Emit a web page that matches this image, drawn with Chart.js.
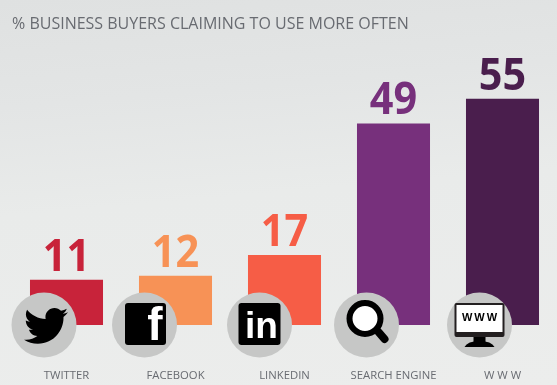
<!DOCTYPE html>
<html>
<head>
<meta charset="utf-8">
<title>Business buyers</title>
<script src="https://cdn.jsdelivr.net/npm/chart.js@4"></script>
<style>
    html, body { margin: 0; padding: 0; width: 557px; height: 385px; overflow: hidden; }
    body { background: linear-gradient(175deg, #dfe1e1 0%, #e3e5e5 25%, #e9ebea 50%, #ecedec 100%); }
    canvas { display: block; }
</style>
</head>
<body>
<canvas id="graficoBuyers" width="557" height="385"></canvas>
<script>
const titulo = '% BUSINESS BUYERS CLAIMING TO USE MORE OFTEN';
const categorias = ['TWITTER', 'FACEBOOK', 'LINKEDIN', 'SEARCH ENGINE', 'W W W'];
const valores = [11, 12, 17, 49, 55];
const cores = ['#C8233A', '#F79256', '#F65D46', '#77307C', '#4A1E4D'];
const tiposIcone = ['twitter', 'facebook', 'linkedin', 'busca', 'www'];
const deslocIcone = [-22.5, -31, -25, -27, -23];

const caminhoTwitter = new Path2D('M22.46,6C21.69,6.35 20.86,6.58 20,6.69C20.88,6.16 21.56,5.32 21.88,4.31C21.05,4.81 20.13,5.16 19.16,5.36C18.37,4.5 17.26,4 16,4C13.65,4 11.73,5.92 11.73,8.29C11.73,8.63 11.77,8.96 11.84,9.27C8.28,9.09 5.11,7.38 3,4.79C2.63,5.42 2.42,6.16 2.42,6.94C2.42,8.43 3.17,9.75 4.33,10.5C3.62,10.5 2.96,10.3 2.38,10C2.38,10 2.38,10 2.38,10.03C2.38,12.11 3.86,13.85 5.82,14.24C5.46,14.34 5.08,14.39 4.69,14.39C4.42,14.39 4.15,14.36 3.89,14.31C4.43,16 6,17.26 7.89,17.29C6.43,18.44 4.58,19.13 2.56,19.13C2.22,19.13 1.88,19.11 1.54,19.07C3.44,20.29 5.7,21 8.12,21C16,21 20.33,14.46 20.33,8.79C20.33,8.6 20.33,8.42 20.32,8.23C21.16,7.63 21.88,6.87 22.46,6Z');

function quadradoRedondo(ctx, x, y, w, h, r) {
    ctx.beginPath();
    ctx.roundRect(x, y, w, h, r);
    ctx.fill();
}

const desenhaIcone = {
    twitter(ctx, cx, cy) {
        ctx.save();
        ctx.translate(cx - 23.2, cy - 25.4);
        ctx.scale(2.1, 2.1);
        ctx.fillStyle = '#000';
        ctx.fill(caminhoTwitter);
        ctx.restore();
    },
    facebook(ctx, cx, cy) {
        ctx.fillStyle = '#000';
        quadradoRedondo(ctx, cx - 19.5, cy - 22, 41, 42, 3);
        ctx.fillStyle = '#fff';
        ctx.font = 'bold 46px "Liberation Sans"';
        ctx.textAlign = 'center';
        ctx.textBaseline = 'alphabetic';
        ctx.fillText('f', cx + 10.5, cy + 15);
    },
    linkedin(ctx, cx, cy) {
        ctx.fillStyle = '#000';
        quadradoRedondo(ctx, cx - 21, cy - 22, 42, 42, 3);
        ctx.fillStyle = '#fff';
        ctx.font = 'bold 37px "Liberation Sans"';
        ctx.textAlign = 'center';
        ctx.textBaseline = 'alphabetic';
        ctx.fillText('in', cx + 2, cy + 13);
    },
    busca(ctx, cx, cy) {
        ctx.fillStyle = '#fff';
        ctx.strokeStyle = '#000';
        ctx.lineWidth = 6;
        ctx.beginPath();
        ctx.arc(cx - 1.5, cy - 6.5, 15.5, 0, Math.PI * 2);
        ctx.fill();
        ctx.stroke();
        ctx.lineWidth = 8;
        ctx.lineCap = 'round';
        ctx.beginPath();
        ctx.moveTo(cx + 12, cy + 7);
        ctx.lineTo(cx + 18, cy + 14);
        ctx.stroke();
        ctx.lineCap = 'butt';
    },
    www(ctx, cx, cy) {
        ctx.fillStyle = '#231f20';
        quadradoRedondo(ctx, cx - 25, cy - 22, 50, 34, 2);
        ctx.fillStyle = '#fff';
        ctx.fillRect(cx - 23, cy - 20, 46, 27);
        ctx.fillStyle = '#000';
        ctx.font = 'bold 11px "Liberation Sans"';
        ctx.textAlign = 'center';
        ctx.textBaseline = 'middle';
        ctx.letterSpacing = '2px';
        ctx.fillText('WWW', cx + 1, cy - 7);
        ctx.letterSpacing = '0px';
        ctx.fillRect(cx - 6, cy + 12, 12, 5);
        ctx.beginPath();
        ctx.moveTo(cx - 15, cy + 22);
        ctx.quadraticCurveTo(cx - 12, cy + 16, cx, cy + 16);
        ctx.quadraticCurveTo(cx + 12, cy + 16, cx + 15, cy + 22);
        ctx.closePath();
        ctx.fill();
    }
};

// numeros em cima das barras
const pluginValores = {
    id: 'valoresBarras',
    afterDatasetsDraw(chart) {
        const ctx = chart.ctx;
        const meta = chart.getDatasetMeta(0);
        meta.data.forEach((barra, i) => {
            ctx.save();
            ctx.translate(barra.x, barra.y - 9);
            ctx.scale(0.92, 1);
            ctx.font = 'bold 45px "Open Sans"';
            ctx.fillStyle = cores[i];
            ctx.textAlign = 'center';
            ctx.textBaseline = 'alphabetic';
            ctx.fillText(String(valores[i]), 0, 0);
            ctx.restore();
        });
    }
};

// circulos com os icones por cima da base das barras
const pluginIcones = {
    id: 'iconesBarras',
    afterDraw(chart) {
        const ctx = chart.ctx;
        const escalaX = chart.scales.x;
        const base = chart.scales.y.getPixelForValue(0);
        tiposIcone.forEach((tipo, i) => {
            const cx = escalaX.getPixelForValue(i) + deslocIcone[i];
            ctx.save();
            ctx.fillStyle = '#c6c7c6';
            ctx.beginPath();
            ctx.arc(cx, base, 32.5, 0, Math.PI * 2);
            ctx.fill();
            desenhaIcone[tipo](ctx, cx, base);
            ctx.restore();
        });
    }
};

new Chart(document.getElementById('graficoBuyers').getContext('2d'), {
    type: 'bar',
    data: {
        labels: categorias,
        datasets: [{
            data: valores,
            backgroundColor: cores,
            borderWidth: 0,
            barPercentage: 0.67,
            categoryPercentage: 1
        }]
    },
    options: {
        responsive: false,
        animation: false,
        layout: { autoPadding: false, padding: { left: 12, right: 0, top: 0, bottom: 0 } },
        plugins: {
            legend: { display: false },
            tooltip: { enabled: false },
            title: {
                display: true,
                text: titulo,
                align: 'start',
                color: '#686b71',
                font: { family: '"Open Sans"', size: 16, weight: 'normal' },
                padding: { top: 15, bottom: 44 }
            }
        },
        scales: {
            x: {
                grid: { display: false },
                border: { display: false },
                afterFit: escala => {
                    escala.height = 60;
                    escala.paddingLeft = 0;
                    escala.paddingRight = 0;
                },
                ticks: {
                    color: '#686b71',
                    font: { family: '"Open Sans"', size: 11.3 },
                    padding: 36,
                    maxRotation: 0,
                    autoSkip: false
                }
            },
            y: { display: false, min: 0, max: 60 }
        }
    },
    plugins: [pluginValores, pluginIcones]
});
</script>
</body>
</html>
